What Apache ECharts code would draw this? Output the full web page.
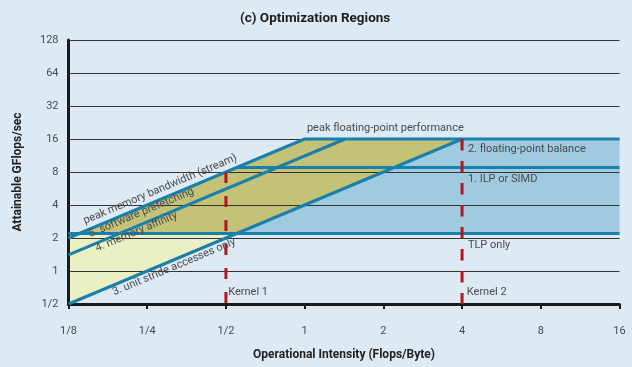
<!DOCTYPE html>
<html><head><meta charset="utf-8">
<script src="https://cdn.jsdelivr.net/npm/echarts@6/dist/echarts.min.js"></script>
<style>html,body{margin:0;padding:0;background:#dde9f3;}#c{width:632px;height:367px;}</style>
</head><body><div id="c"></div>
<script>
// ---- data ----
const xTickLabels = ['1/8','1/4','1/2','1','2','4','8','16'];
const yTickLabels = ['1/2','1','2','4','8','16','32','64','128'];
const xRange = [0.125, 16];
const yRange = [0.5, 128];
// computational ceilings (GFlops/sec)
const peakFlops = 16;
const balanceCeiling = 8.8;
const ilpCeiling = 2.2;
// bandwidth ceilings (GFlops per Flop/Byte)
const streamBW = 16;
const prefetchBW = 11.2;
const unitStrideBW = 4;
// kernels
const kernelNames = ['Kernel 1', 'Kernel 2'];
const kernelOI = [0.5, 4];
// annotations (data coordinates of the text's left-middle point)
const diagLabels = [
  ['peak memory bandwidth (stream)', 0.1433, 2.84],
  ['5. software prefetching', 0.1498, 2.14],
  ['4. memory affinity', 0.1593, 1.59],
  ['3. unit stride accesses only', 0.1851, 0.634]
];
const flatLabels = [
  ['peak floating-point performance', 1.02, 20],
  ['2. floating-point balance', 4.21, 12.9],
  ['1. ILP or SIMD', 4.21, 6.9],
  ['TLP only', 4.21, 1.73],
  [kernelNames[0], 0.51, 0.634],
  [kernelNames[1], 4.17, 0.634]
];

// ---- derived geometry (data space) ----
const xMin = xRange[0], xMax = xRange[1];
const roof = x => Math.min(streamBW * x, peakFlops);
const xStreamPeak = peakFlops / streamBW;
const xStreamIlp = ilpCeiling / streamBW;
const xUnitIlp = ilpCeiling / unitStrideBW;
const xUnitPeak = peakFlops / unitStrideBW;
const xStreamBal = balanceCeiling / streamBW;
const xPrefPeak = peakFlops / prefetchBW;

const fills = [
  { color: '#eaf0c4', pts: [[xMin, unitStrideBW * xMin], [xMin, streamBW * xMin], [xStreamIlp, ilpCeiling], [xUnitIlp, ilpCeiling]] },
  { color: '#c3c276', pts: [[xStreamIlp, ilpCeiling], [xStreamPeak, peakFlops], [xUnitPeak, peakFlops], [xUnitIlp, ilpCeiling]] },
  { color: '#9fcadf', pts: [[xUnitIlp, ilpCeiling], [xUnitPeak, peakFlops], [xMax, peakFlops], [xMax, ilpCeiling]] }
];

const blueLines = [
  [[xMin, streamBW * xMin], [xStreamPeak, peakFlops], [xMax, peakFlops]],
  [[xMin, prefetchBW * xMin], [xPrefPeak, peakFlops]],
  [[xMin, unitStrideBW * xMin], [xUnitPeak, peakFlops]],
  [[xStreamBal, balanceCeiling], [xMax, balanceCeiling]],
  [[xMin, ilpCeiling], [xMax, ilpCeiling]]
];

const FONT = 'Roboto, "Liberation Sans", sans-serif';
const LINE_BLUE = '#1a80ab';
const RED = '#b5161e';

const labelFmt = (labels, base) => v => {
  const i = Math.round(Math.log2(v / base));
  return labels[i] !== undefined ? labels[i] : '';
};

const series = [];
series.push({
  type: 'custom', z: -1, silent: true,
  data: fills.map((f, i) => [1, 1, i]),
  encode: { x: 0, y: 1 },
  renderItem: (params, api) => {
    const f = fills[params.dataIndex];
    return { type: 'polygon', shape: { points: f.pts.map(p => api.coord(p)) }, style: { fill: f.color } };
  }
});
blueLines.forEach(d => series.push({
  type: 'line', data: d, showSymbol: false, silent: true, z: 3,
  lineStyle: { color: LINE_BLUE, width: 3 }
}));
const kernelDash = [[11, 13], [11.5, 10.5]];
kernelOI.forEach((k, i) => series.push({
  type: 'line', data: [[k, roof(k)], [k, yRange[0]]], showSymbol: false, silent: true, z: 4,
  lineStyle: { color: RED, width: 3, type: kernelDash[i], cap: 'butt' }
}));
series.push({
  type: 'custom', z: 5, silent: true,
  data: diagLabels.map(d => [d[1], d[2]]),
  encode: { x: 0, y: 1 },
  renderItem: (params, api) => {
    const d = diagLabels[params.dataIndex];
    const p = api.coord([d[1], d[2]]);
    const a = api.coord([0.25, streamBW * 0.25]);
    const b = api.coord([0.5, streamBW * 0.5]);
    const rot = Math.atan2(a[1] - b[1], b[0] - a[0]);
    return { type: 'text', x: p[0], y: p[1], rotation: rot,
      style: { text: d[0], fill: '#4a4a4a', fontSize: 11, fontFamily: FONT, align: 'left', verticalAlign: 'middle' } };
  }
});
series.push({
  type: 'custom', z: 5, silent: true,
  data: flatLabels.map(d => [d[1], d[2]]),
  encode: { x: 0, y: 1 },
  renderItem: (params, api) => {
    const d = flatLabels[params.dataIndex];
    const p = api.coord([d[1], d[2]]);
    return { type: 'text', x: p[0], y: p[1],
      style: { text: d[0], fill: '#4a4a4a', fontSize: 11, fontFamily: FONT, align: 'left', verticalAlign: 'middle' } };
  }
});

const chart = echarts.init(document.getElementById('c'));
chart.setOption({
  animation: false,
  backgroundColor: '#dde9f3',
  title: { text: '(c) Optimization Regions', left: 235, top: 7,
    textStyle: { fontSize: 13.5, fontWeight: 'bold', color: '#1e1e1e', fontFamily: FONT } },
  grid: { left: 68.5, right: 12.5, top: 40, bottom: 63 },
  xAxis: {
    type: 'log', logBase: 2, min: xRange[0], max: xRange[1],
    name: 'Operational Intensity (Flops/Byte)', nameLocation: 'middle', nameGap: 45,
    nameTextStyle: { fontSize: 12, fontWeight: 'bold', color: '#222', fontFamily: FONT },
    axisLine: { lineStyle: { color: '#1a1a1a', width: 3 } },
    axisTick: { show: true, length: 5, lineStyle: { color: '#1a1a1a', width: 2 } },
    splitLine: { show: false },
    axisLabel: { color: '#4a4a4a', fontSize: 11, margin: 22, fontFamily: FONT, formatter: labelFmt(xTickLabels, xRange[0]) }
  },
  yAxis: {
    type: 'log', logBase: 2, min: yRange[0], max: yRange[1],
    name: 'Attainable GFlops/sec', nameLocation: 'middle', nameGap: 45,
    nameTextStyle: { fontSize: 12, fontWeight: 'bold', color: '#222', fontFamily: FONT },
    axisLine: { show: true, lineStyle: { color: '#1a1a1a', width: 3 } },
    axisTick: { show: false },
    splitLine: { show: true, lineStyle: { color: '#333', width: 1 } },
    axisLabel: { color: '#4a4a4a', fontSize: 11, margin: 10, fontFamily: FONT, formatter: labelFmt(yTickLabels, yRange[0]) }
  },
  series: series
});
</script>
</body></html>
